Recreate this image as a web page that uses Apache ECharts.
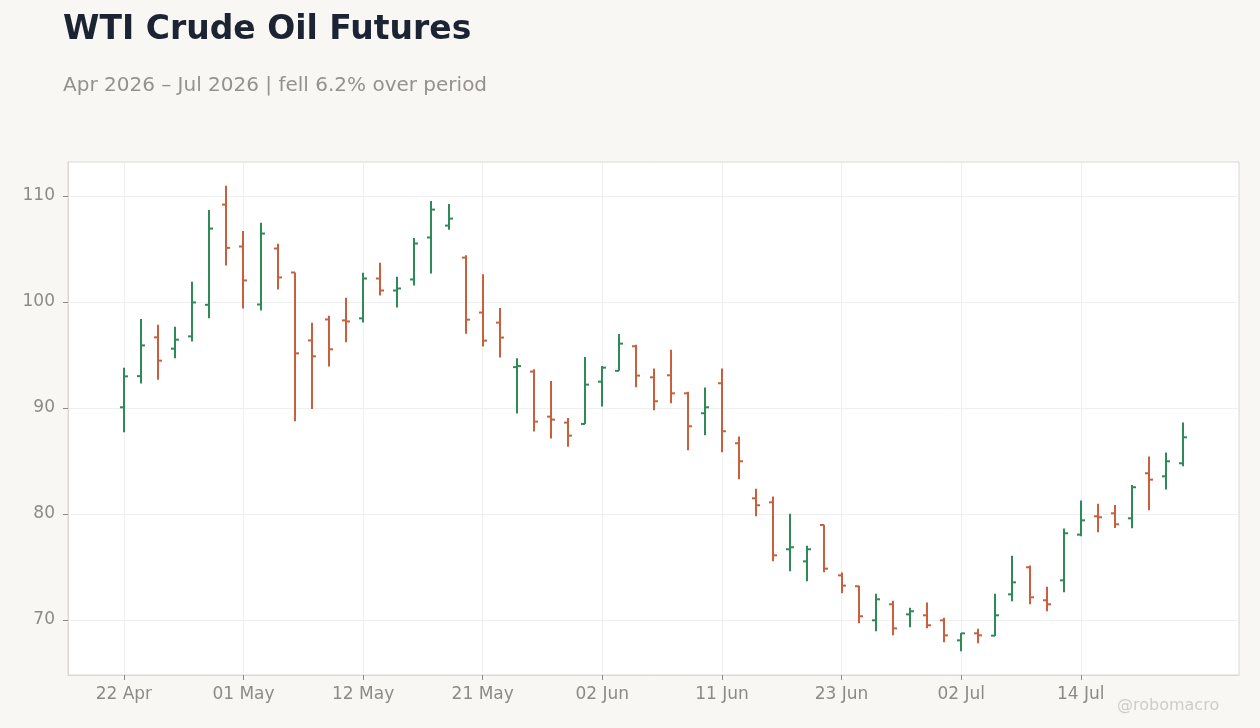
<!DOCTYPE html>
<html>
<head>
    <meta charset="utf-8">
    <title>WTI Crude Oil Futures</title>
    <script src="https://cdn.jsdelivr.net/npm/echarts@6/dist/echarts.min.js"></script>
    <style>
        html, body { margin: 0; padding: 0; background: #f8f7f4; }
    </style>
</head>
<body>
    <div id="main" style="width: 1260px;height:728px;"></div>
    <script type="text/javascript">
        // trading days, Apr - Jul 2026
        var dates = [
            '22 Apr', '23 Apr', '24 Apr', '27 Apr', '28 Apr', '29 Apr', '30 Apr',
            '01 May', '04 May', '05 May', '06 May', '07 May', '08 May', '11 May', '12 May',
            '13 May', '14 May', '15 May', '18 May', '19 May', '20 May', '21 May', '22 May',
            '26 May', '27 May', '28 May', '29 May',
            '01 Jun', '02 Jun', '03 Jun', '04 Jun', '05 Jun', '08 Jun', '09 Jun', '10 Jun',
            '11 Jun', '12 Jun', '15 Jun', '16 Jun', '17 Jun', '18 Jun', '22 Jun', '23 Jun',
            '24 Jun', '25 Jun', '26 Jun', '29 Jun', '30 Jun',
            '01 Jul', '02 Jul', '06 Jul', '07 Jul', '08 Jul', '09 Jul', '10 Jul', '13 Jul',
            '14 Jul', '15 Jul', '16 Jul', '17 Jul', '20 Jul', '21 Jul', '22 Jul'
        ];
        var opens = [
            90.06, 93.0, 96.66, 95.59, 96.75, 99.73, 109.18, 105.23, 99.76, 105.04,
            102.78, 96.37, 98.35, 98.26, 98.45, 102.21, 101.08, 102.12, 106.08, 107.2,
            104.18, 99.0, 98.05, 93.85, 93.43, 89.18, 88.62, 88.49, 92.48, 93.5,
            95.82, 92.89, 93.08, 91.38, 89.5, 92.33, 86.67, 81.48, 81.1, 76.67,
            75.53, 78.96, 74.21, 73.18, 69.97, 71.48, 70.53, 70.44, 69.97, 68.08,
            68.74, 68.52, 72.42, 74.97, 71.86, 73.74, 78.05, 79.78, 80.06, 79.59,
            83.84, 83.55, 84.78
        ];
        var highs = [
            93.8, 98.4, 97.85, 97.66, 101.9, 108.68, 110.97, 106.7, 107.46, 105.48,
            102.78, 98.04, 98.7, 100.39, 102.75, 103.69, 102.37, 106.04, 109.53, 109.25,
            104.4, 102.61, 99.43, 94.69, 93.65, 92.55, 89.06, 94.81, 93.96, 96.98,
            95.97, 93.71, 95.5, 91.54, 91.92, 93.71, 87.3, 82.39, 81.64, 80.03,
            77.01, 78.99, 74.47, 73.24, 72.48, 71.82, 71.16, 71.64, 70.22, 68.77,
            69.18, 72.48, 76.07, 75.13, 73.14, 78.62, 81.26, 80.97, 80.85, 82.74,
            85.41, 85.79, 88.62
        ];
        var lows = [
            87.7, 92.3, 92.67, 94.68, 96.28, 98.45, 103.44, 99.39, 99.2, 101.18,
            88.74, 89.91, 93.92, 96.19, 98.07, 100.61, 99.48, 101.55, 102.68, 106.82,
            97.01, 95.79, 94.75, 89.47, 87.77, 87.11, 86.35, 88.49, 90.13, 93.5,
            91.95, 89.78, 90.44, 86.01, 87.42, 85.82, 83.27, 79.78, 75.53, 74.59,
            73.65, 74.5, 72.52, 69.69, 68.93, 68.55, 69.31, 69.21, 67.89, 67.04,
            67.8, 68.49, 71.76, 71.48, 70.82, 72.61, 77.89, 78.27, 78.68, 78.65,
            80.35, 82.3, 84.5
        ];
        var closes = [
            92.98, 95.9, 94.46, 96.44, 99.95, 106.92, 105.1, 102.03, 106.45, 102.31,
            95.15, 94.87, 95.53, 98.16, 102.21, 101.08, 101.27, 105.51, 108.71, 107.86,
            98.33, 96.35, 96.64, 93.95, 88.71, 88.9, 87.39, 92.2, 93.8, 96.07,
            93.05, 90.63, 91.38, 88.27, 90.06, 87.8, 84.97, 80.82, 76.1, 76.86,
            76.67, 74.84, 73.24, 70.35, 71.95, 69.21, 70.82, 69.5, 68.55, 68.74,
            68.55, 70.44, 73.55, 72.14, 71.48, 78.18, 79.4, 79.69, 79.03, 82.52,
            83.24, 84.97, 87.23
        ];
        var labelIdx = [0, 7, 14, 21, 28, 35, 42, 49, 56];
        var yTicks = [70, 80, 90, 100, 110];

        var upColor = '#2e8b57';
        var downColor = '#c9603d';

        var ohlc = dates.map(function (d, i) {
            return [i, opens[i], highs[i], lows[i], closes[i]];
        });

        var myChart = echarts.init(document.getElementById('main'));

        // OHLC bar: high-low stem, open tick left, close tick right
        function renderBar(params, api) {
            var i = api.value(0);
            var o = api.coord([i, api.value(1)]);
            var h = api.coord([i, api.value(2)]);
            var l = api.coord([i, api.value(3)]);
            var c = api.coord([i, api.value(4)]);
            var color = api.value(4) >= api.value(1) ? upColor : downColor;
            var x = Math.round(o[0]);
            var style = { stroke: color, lineWidth: 2 };
            return {
                type: 'group',
                children: [
                    { type: 'line', shape: { x1: x, y1: h[1], x2: x, y2: l[1] }, style: style },
                    { type: 'line', shape: { x1: x - 4, y1: o[1], x2: x, y2: o[1] }, style: style },
                    { type: 'line', shape: { x1: x, y1: c[1], x2: x + 4, y2: c[1] }, style: style }
                ]
            };
        }

        var axisText = { color: '#8f8a85', fontSize: 17, fontFamily: 'DejaVu Sans' };

        option = {
            backgroundColor: '#f8f7f4',
            animation: false,
            title: [{
                text: 'WTI Crude Oil Futures',
                left: 58, top: 9,
                textStyle: { color: '#1c2333', fontSize: 33, fontWeight: 'bold', fontFamily: 'DejaVu Sans' }
            }, {
                text: 'Apr 2026 \u2013 Jul 2026 | fell 6.2% over period',
                left: 58, top: 71,
                textStyle: { color: '#96918b', fontSize: 20, fontWeight: 'normal', fontFamily: 'DejaVu Sans' }
            }, {
                text: '@robomacro',
                left: 1112, top: 693,
                textStyle: { color: '#d0ccc6', fontSize: 16, fontWeight: 'normal', fontFamily: 'DejaVu Sans' }
            }],
            grid: {
                left: 68, top: 162, width: 1171, height: 513,
                show: true, backgroundColor: '#ffffff', borderColor: '#dcd8d2', borderWidth: 1
            },
            xAxis: {
                type: 'value',
                min: -3.27,
                max: 65.26,
                axisLine: { show: true, onZero: false, lineStyle: { color: '#dcd8d2' } },
                axisTick: { show: true, length: 5, customValues: labelIdx, lineStyle: { color: '#8f8a85' } },
                axisLabel: Object.assign({
                    margin: 11,
                    customValues: labelIdx,
                    formatter: function (v) { return dates[Math.round(v)] || ''; }
                }, axisText),
                splitLine: { show: true, lineStyle: { color: '#efefef' } }
            },
            yAxis: {
                type: 'value',
                min: 64.81,
                max: 113.2,
                axisLine: { show: true, onZero: false, lineStyle: { color: '#dcd8d2' } },
                axisTick: { show: true, length: 5, customValues: yTicks, lineStyle: { color: '#8f8a85' } },
                axisLabel: Object.assign({ margin: 13, customValues: yTicks }, axisText),
                splitLine: { show: true, lineStyle: { color: '#efefef' } }
            },
            series: [{
                type: 'custom',
                renderItem: renderBar,
                encode: { x: 0, y: [1, 2, 3, 4] },
                data: ohlc,
                clip: true
            }]
        };

        myChart.setOption(option);
    </script>
</body>
</html>
